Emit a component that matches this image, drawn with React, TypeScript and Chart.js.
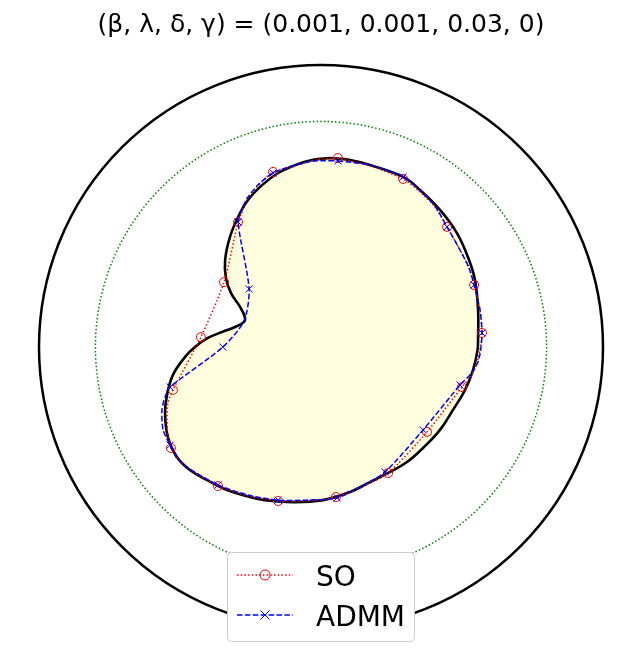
import React, { useEffect, useRef } from "react";
import { Chart, registerables } from "chart.js";

Chart.register(...registerables);

const titleText = "(β, λ, δ, γ) = (0.001, 0.001, 0.03, 0)";
const circleRadii = [1.0, 0.8];

// Domain boundary (kidney shape)
const shapeX = [0.032, 0.103, 0.174, 0.291, 0.351, 0.422, 0.482, 0.521, 0.546, 0.557, 0.557, 0.555, 0.539, 0.511, 0.468, 0.422, 0.362, 0.305, 0.245, 0.174, 0.103, 0.007, -0.099, -0.199, -0.252, -0.333, -0.404, -0.465, -0.511, -0.543, -0.553, -0.546, -0.525, -0.482, -0.447, -0.401, -0.351, -0.305, -0.273, -0.270, -0.287, -0.319, -0.337, -0.340, -0.323, -0.294, -0.259, -0.209, -0.152, -0.092, -0.032, 0.032];
const shapeY = [0.670, 0.663, 0.645, 0.603, 0.557, 0.486, 0.404, 0.319, 0.238, 0.131, 0.035, -0.011, -0.082, -0.152, -0.223, -0.294, -0.358, -0.408, -0.443, -0.479, -0.514, -0.543, -0.550, -0.543, -0.532, -0.507, -0.472, -0.436, -0.390, -0.319, -0.234, -0.170, -0.099, -0.035, 0.000, 0.032, 0.053, 0.071, 0.089, 0.106, 0.142, 0.191, 0.245, 0.309, 0.390, 0.461, 0.521, 0.574, 0.617, 0.645, 0.663, 0.670];

// SO reconstruction
const soX = [0.060, 0.174, 0.291, 0.351, 0.404, 0.447, 0.493, 0.525, 0.543, 0.564, 0.571, 0.564, 0.550, 0.528, 0.500, 0.376, 0.238, 0.145, 0.053, -0.050, -0.152, -0.259, -0.365, -0.461, -0.507, -0.532, -0.543, -0.546, -0.543, -0.525, -0.426, -0.344, -0.294, -0.281, -0.263, -0.223, -0.170, -0.092, -0.021, 0.060];
const soY = [0.670, 0.642, 0.596, 0.550, 0.496, 0.426, 0.344, 0.280, 0.220, 0.131, 0.050, -0.007, -0.067, -0.110, -0.142, -0.301, -0.447, -0.496, -0.532, -0.546, -0.546, -0.528, -0.493, -0.436, -0.397, -0.358, -0.312, -0.259, -0.199, -0.152, 0.035, 0.230, 0.443, 0.475, 0.521, 0.571, 0.621, 0.642, 0.663, 0.670];
const soMarker = [1, 0, 1, 0, 0, 1, 0, 0, 1, 0, 1, 0, 0, 0, 1, 1, 1, 0, 1, 0, 1, 0, 1, 0, 0, 1, 0, 0, 0, 1, 1, 1, 1, 0, 0, 0, 1, 0, 0, 0];

// ADMM reconstruction
const admmX = [0.060, 0.174, 0.291, 0.351, 0.404, 0.447, 0.493, 0.525, 0.543, 0.564, 0.571, 0.567, 0.557, 0.528, 0.493, 0.362, 0.227, 0.145, 0.057, -0.050, -0.152, -0.259, -0.365, -0.465, -0.511, -0.535, -0.560, -0.564, -0.553, -0.535, -0.348, -0.273, -0.255, -0.294, -0.277, -0.259, -0.220, -0.170, -0.092, -0.021, 0.060];
const admmY = [0.660, 0.645, 0.603, 0.557, 0.500, 0.426, 0.344, 0.280, 0.220, 0.131, 0.050, -0.004, -0.053, -0.099, -0.135, -0.294, -0.443, -0.493, -0.535, -0.543, -0.543, -0.525, -0.489, -0.433, -0.394, -0.348, -0.294, -0.223, -0.177, -0.142, 0.000, 0.092, 0.206, 0.443, 0.496, 0.532, 0.578, 0.617, 0.645, 0.660, 0.660];
const admmMarker = [1, 0, 1, 0, 0, 1, 0, 0, 1, 0, 1, 0, 0, 0, 1, 1, 1, 0, 1, 0, 1, 0, 1, 0, 0, 1, 0, 0, 0, 1, 1, 0, 1, 1, 0, 0, 0, 1, 0, 0, 0];

const FONT = "'DejaVu Sans', 'Liberation Sans', sans-serif";

const toPoints = (xs: number[], ys: number[]) => xs.map((x, i) => ({ x, y: ys[i] }));

const circlesPlugin = {
  id: "circles",
  beforeDatasetsDraw(chart: any) {
    const { ctx } = chart;
    const xs = chart.scales.x;
    const ys = chart.scales.y;
    const cx = xs.getPixelForValue(0);
    const cy = ys.getPixelForValue(0);
    ctx.save();
    ctx.beginPath();
    ctx.arc(cx, cy, xs.getPixelForValue(circleRadii[0]) - cx, 0, Math.PI * 2);
    ctx.strokeStyle = "#000000";
    ctx.lineWidth = 2.5;
    ctx.setLineDash([]);
    ctx.stroke();
    ctx.beginPath();
    ctx.arc(cx, cy, xs.getPixelForValue(circleRadii[1]) - cx, 0, Math.PI * 2);
    ctx.strokeStyle = "#008000";
    ctx.lineWidth = 1.5;
    ctx.setLineDash([1.5, 2.2]);
    ctx.stroke();
    ctx.restore();
  },
};

const legendPlugin = {
  id: "mplLegend",
  afterDraw(chart: any) {
    const { ctx } = chart;
    const items = chart.data.datasets.filter((d: any) => d.showInLegend);
    const left = 227.5;
    const top = 552.5;
    const w = 187;
    const h = 89;
    ctx.save();
    ctx.beginPath();
    ctx.roundRect(left, top, w, h, 4);
    ctx.fillStyle = "#ffffff";
    ctx.fill();
    ctx.strokeStyle = "#cccccc";
    ctx.lineWidth = 1;
    ctx.setLineDash([]);
    ctx.stroke();
    items.forEach((d: any, i: number) => {
      const y = 575 + i * 40;
      ctx.beginPath();
      ctx.moveTo(237, y);
      ctx.lineTo(293, y);
      ctx.strokeStyle = d.borderColor;
      ctx.lineWidth = d.borderWidth;
      ctx.setLineDash(d.borderDash || []);
      ctx.stroke();
      ctx.setLineDash([]);
      ctx.lineWidth = 1;
      ctx.strokeStyle = d.pointBorderColor;
      const mx = 265;
      const r = 5;
      ctx.beginPath();
      if (d.pointStyle === "circle") {
        ctx.arc(mx, y, r, 0, Math.PI * 2);
      } else {
        const a = r * 0.9;
        ctx.moveTo(mx - a, y - a);
        ctx.lineTo(mx + a, y + a);
        ctx.moveTo(mx - a, y + a);
        ctx.lineTo(mx + a, y - a);
      }
      ctx.stroke();
      ctx.fillStyle = "#000000";
      ctx.font = `28px ${FONT}`;
      ctx.textBaseline = "alphabetic";
      ctx.textAlign = "left";
      ctx.fillText(d.label, 316, y + 10.5);
    });
    ctx.restore();
  },
};

export default function App() {
  const canvasRef = useRef<HTMLCanvasElement | null>(null);

  useEffect(() => {
    const canvas = canvasRef.current;
    if (!canvas) return;
    const chart = new Chart(canvas, {
      type: "scatter",
      data: {
        datasets: [
          {
            label: "boundary",
            data: toPoints(shapeX, shapeY),
            showLine: true,
            borderColor: "#000000",
            borderWidth: 2.6,
            backgroundColor: "#ffffe0",
            fill: "shape",
            tension: 0.4,
            pointRadius: 0,
            order: 3,
          } as any,
          {
            label: "SO",
            showInLegend: true,
            data: toPoints(soX, soY),
            showLine: true,
            borderColor: "#ff0000",
            borderWidth: 1.5,
            borderDash: [1.5, 2.2],
            tension: 0.25,
            fill: false,
            pointStyle: "circle",
            pointRadius: soMarker.map((m) => (m ? 4.5 : 0)),
            pointBorderColor: "#ff0000",
            pointBackgroundColor: "rgba(0,0,0,0)",
            pointBorderWidth: 1,
            order: 2,
          } as any,
          {
            label: "ADMM",
            showInLegend: true,
            data: toPoints(admmX, admmY),
            showLine: true,
            borderColor: "#0000ff",
            borderWidth: 1.5,
            borderDash: [5.5, 2.4],
            tension: 0.25,
            fill: false,
            pointStyle: "crossRot",
            pointRadius: admmMarker.map((m) => (m ? 5 : 0)),
            pointBorderColor: "#0000ff",
            pointBackgroundColor: "#0000ff",
            pointBorderWidth: 1,
            order: 1,
          } as any,
        ],
      },
      options: {
        responsive: false,
        animation: false,
        events: [],
        layout: { padding: { left: 39, right: 39, top: 0, bottom: 38 } },
        scales: {
          x: { type: "linear", min: -1, max: 1, display: false },
          y: { type: "linear", min: -1, max: 1, display: false },
        },
        plugins: {
          legend: { display: false },
          tooltip: { enabled: false },
          title: {
            display: true,
            text: titleText,
            color: "#000000",
            font: { family: FONT, size: 25, weight: "normal", lineHeight: 1.2 },
            padding: { top: 10, bottom: 25 },
          },
        },
      },
      plugins: [circlesPlugin, legendPlugin],
    });
    return () => chart.destroy();
  }, []);

  return (
    <div style={{ position: "absolute", left: 0, top: 0, width: 642, height: 667, background: "#ffffff" }}>
      <canvas ref={canvasRef} width={642} height={667} style={{ width: 642, height: 667 }} />
    </div>
  );
}
